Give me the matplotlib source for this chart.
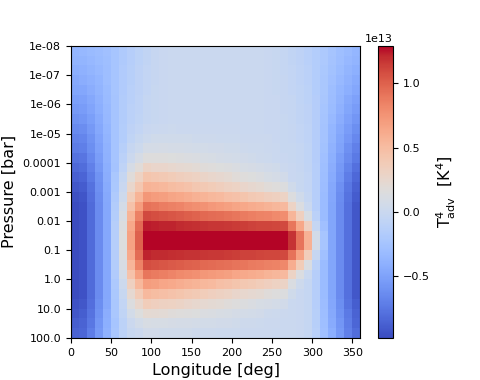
import numpy as np
import matplotlib
matplotlib.use("Agg")
import matplotlib.pyplot as plt

# longitude bin centres [deg] and pressure level centres [log10 bar]
lon = np.arange(5, 360, 10)
log_p = np.linspace(-8 + 1 / 6, 2 - 1 / 6, 30)

# T^4 advection, units of 1e11 K^4, rows from 1e-8 bar (top) down to 100 bar
t4_adv = [
    [-36, -35, -33, -31, -28, -24, -19, -14, -10, -6, -3, -1, 0, 0, 0, 0, 0, 0, 0, 0, 0, 0, 0, 0, -1, -2, -4, -6, -9, -12, -16, -20, -25, -29, -33, -36],
    [-38, -37, -35, -32, -29, -24, -19, -14, -10, -6, -3, -1, 0, 0, 0, 0, 0, 0, 0, 0, 0, 0, 0, 0, -1, -2, -4, -6, -9, -12, -16, -20, -26, -30, -35, -38],
    [-42, -40, -37, -34, -30, -24, -18, -13, -9, -5, -3, -1, 0, 0, 0, 0, 0, 0, 0, 0, 0, 0, 0, 0, -1, -2, -4, -5, -8, -11, -16, -21, -27, -32, -37, -41],
    [-45, -43, -40, -36, -30, -24, -18, -13, -9, -5, -3, -1, 0, 0, 0, 0, 0, 0, 0, 0, 0, 0, 0, 0, -1, -2, -3, -5, -8, -11, -16, -22, -28, -34, -39, -44],
    [-48, -47, -43, -38, -32, -24, -18, -12, -9, -5, -2, -1, 0, 0, 0, 0, 0, 0, 0, 0, 0, 0, 0, 0, -1, -2, -3, -5, -7, -10, -16, -22, -30, -36, -42, -47],
    [-52, -51, -46, -40, -33, -25, -17, -12, -8, -4, -2, -1, 0, 0, 0, 0, 0, 0, 0, 0, 0, 0, 0, 0, -1, -1, -3, -4, -7, -10, -15, -23, -31, -38, -45, -51],
    [-56, -54, -49, -42, -34, -25, -17, -11, -8, -4, -2, -1, 0, 0, 0, 0, 0, 0, 0, 0, 0, 0, 0, 0, -1, -1, -3, -4, -6, -9, -15, -24, -32, -40, -48, -54],
    [-60, -58, -52, -44, -35, -25, -17, -11, -7, -4, -2, -1, 0, 0, 0, 0, 0, 0, 0, 0, 0, 0, 0, 0, -1, -1, -2, -4, -6, -9, -15, -25, -34, -43, -51, -58],
    [-65, -63, -56, -46, -36, -25, -16, -9, -5, -1, 0, 1, 2, 1, 1, 1, 1, 1, 1, 1, 1, 0, 0, 0, -1, -1, -2, -3, -5, -8, -15, -26, -36, -45, -54, -62],
    [-69, -67, -59, -49, -38, -25, -16, -7, -2, 2, 4, 4, 4, 4, 4, 3, 3, 3, 2, 2, 2, 1, 1, 1, 1, -1, -2, -3, -5, -8, -15, -26, -37, -48, -57, -66],
    [-73, -71, -62, -51, -39, -25, -13, -3, 2, 8, 8, 9, 8, 8, 7, 6, 6, 5, 5, 4, 4, 3, 2, 2, 1, 0, -2, -2, -4, -7, -15, -27, -39, -50, -61, -70],
    [-78, -76, -66, -53, -40, -25, -11, 1, 9, 16, 16, 16, 15, 14, 13, 12, 11, 10, 8, 7, 6, 5, 4, 3, 2, 0, -1, -2, -4, -7, -15, -28, -41, -53, -64, -74],
    [-83, -81, -70, -56, -42, -26, -8, 9, 19, 29, 27, 27, 25, 23, 22, 20, 18, 17, 15, 14, 12, 10, 9, 7, 5, 4, 1, -1, -3, -6, -14, -29, -43, -56, -68, -79],
    [-88, -85, -74, -59, -43, -22, -4, 18, 31, 43, 42, 40, 37, 35, 33, 31, 28, 26, 24, 22, 19, 17, 15, 13, 10, 8, 5, -1, -2, -5, -14, -30, -44, -58, -72, -83],
    [-92, -90, -78, -61, -44, -21, -1, 26, 42, 57, 55, 53, 50, 48, 45, 42, 40, 37, 35, 32, 30, 27, 24, 22, 19, 17, 14, 4, -2, -5, -14, -31, -46, -61, -75, -87],
    [-96, -93, -80, -63, -45, -19, 3, 36, 56, 74, 71, 69, 66, 64, 61, 58, 56, 53, 51, 48, 46, 43, 40, 38, 35, 33, 30, 14, 4, -4, -14, -32, -47, -63, -77, -90],
    [-98, -95, -82, -64, -46, -17, 7, 46, 70, 92, 90, 87, 85, 83, 80, 78, 76, 73, 71, 68, 66, 64, 61, 59, 57, 54, 52, 30, 13, 0, -14, -32, -48, -64, -79, -92],
    [-98, -95, -82, -64, -46, -16, 11, 56, 85, 110, 108, 106, 105, 103, 101, 99, 97, 95, 94, 92, 90, 88, 86, 84, 83, 81, 79, 55, 34, 11, -11, -32, -48, -64, -79, -92],
    [-98, -95, -82, -64, -46, -14, 14, 64, 96, 124, 123, 122, 122, 121, 120, 119, 118, 117, 117, 116, 115, 114, 113, 112, 112, 111, 110, 90, 64, 34, -4, -28, -48, -64, -79, -92],
    [-98, -95, -82, -64, -46, -14, 15, 67, 100, 129, 129, 129, 129, 129, 129, 129, 129, 129, 129, 129, 129, 129, 129, 129, 129, 129, 129, 118, 91, 58, 6, -24, -48, -64, -79, -92],
    [-98, -95, -82, -64, -46, -14, 15, 67, 100, 129, 129, 129, 129, 129, 129, 129, 129, 129, 129, 129, 129, 129, 129, 129, 129, 129, 129, 118, 91, 58, 6, -24, -48, -64, -79, -92],
    [-98, -95, -82, -64, -46, -15, 14, 63, 95, 122, 121, 121, 120, 119, 118, 118, 117, 116, 116, 115, 114, 113, 113, 112, 111, 111, 110, 92, 67, 36, -3, -28, -48, -64, -79, -92],
    [-98, -95, -82, -64, -46, -16, 11, 55, 84, 108, 106, 105, 103, 102, 100, 99, 97, 96, 94, 93, 91, 90, 88, 87, 85, 84, 82, 60, 37, 12, -11, -32, -48, -64, -79, -92],
    [-98, -95, -82, -64, -46, -18, 7, 45, 69, 90, 88, 86, 83, 81, 79, 77, 74, 72, 70, 68, 65, 63, 61, 59, 56, 54, 52, 30, 13, 0, -14, -32, -48, -64, -79, -92],
    [-98, -95, -82, -64, -46, -20, 2, 33, 53, 70, 68, 65, 63, 60, 58, 56, 53, 51, 48, 46, 43, 41, 39, 36, 34, 31, 29, 12, 3, -4, -14, -32, -48, -64, -79, -92],
    [-98, -95, -82, -64, -46, -21, -2, 23, 38, 52, 50, 48, 45, 43, 41, 39, 36, 34, 32, 30, 27, 25, 23, 21, 18, 16, 14, 4, -1, -4, -14, -32, -48, -64, -79, -92],
    [-95, -92, -80, -62, -45, -22, -5, 14, 26, 36, 34, 32, 31, 29, 27, 25, 23, 21, 20, 18, 16, 14, 12, 10, 9, 7, 5, 0, -1, -4, -14, -31, -47, -62, -77, -89],
    [-92, -89, -77, -60, -43, -22, -7, 6, 15, 22, 21, 20, 18, 17, 16, 15, 13, 12, 11, 10, 8, 7, 6, 5, 3, 2, 1, 0, -1, -4, -13, -30, -45, -60, -74, -86],
    [-89, -86, -75, -58, -42, -24, -10, 1, 6, 11, 10, 10, 9, 8, 8, 7, 6, 6, 5, 5, 4, 3, 3, 2, 1, 1, 0, 0, -1, -4, -13, -29, -44, -58, -72, -84],
    [-86, -84, -72, -56, -40, -23, -10, -2, 1, 5, 5, 4, 4, 4, 4, 3, 3, 3, 2, 2, 2, 1, 1, 1, 1, 0, 0, 0, -1, -4, -12, -28, -42, -56, -70, -81],
]

tick_exp = np.arange(-8, 3)
tick_labels = [str(10.0 ** k) for k in tick_exp]

fig = plt.figure(figsize=(4.8, 3.8), dpi=100)
ax = fig.add_axes([0.148, 0.111, 0.603, 0.768])
cax = fig.add_axes([0.7875, 0.111, 0.031, 0.768])

data = np.array(t4_adv, dtype=float) * 1e11
mesh = ax.pcolormesh(lon, log_p, data, cmap="coolwarm", shading="nearest")
ax.set_xlim(0, 360)
ax.set_ylim(2, -8)
ax.set_yticks(tick_exp)
ax.set_yticklabels(tick_labels)
ax.tick_params(labelsize=8)
ax.set_xlabel("Longitude [deg]", fontsize=11.5)
ax.set_ylabel("Pressure [bar]", fontsize=11.5)

cbar = fig.colorbar(mesh, cax=cax)
cbar.ax.tick_params(labelsize=8)
cbar.ax.yaxis.get_offset_text().set_fontsize(8)
cbar.set_label(r"$\mathrm{T}^4_{\mathrm{adv}}$  [K$^4$]", fontsize=11.5)

fig.savefig("out.png", dpi=100)
